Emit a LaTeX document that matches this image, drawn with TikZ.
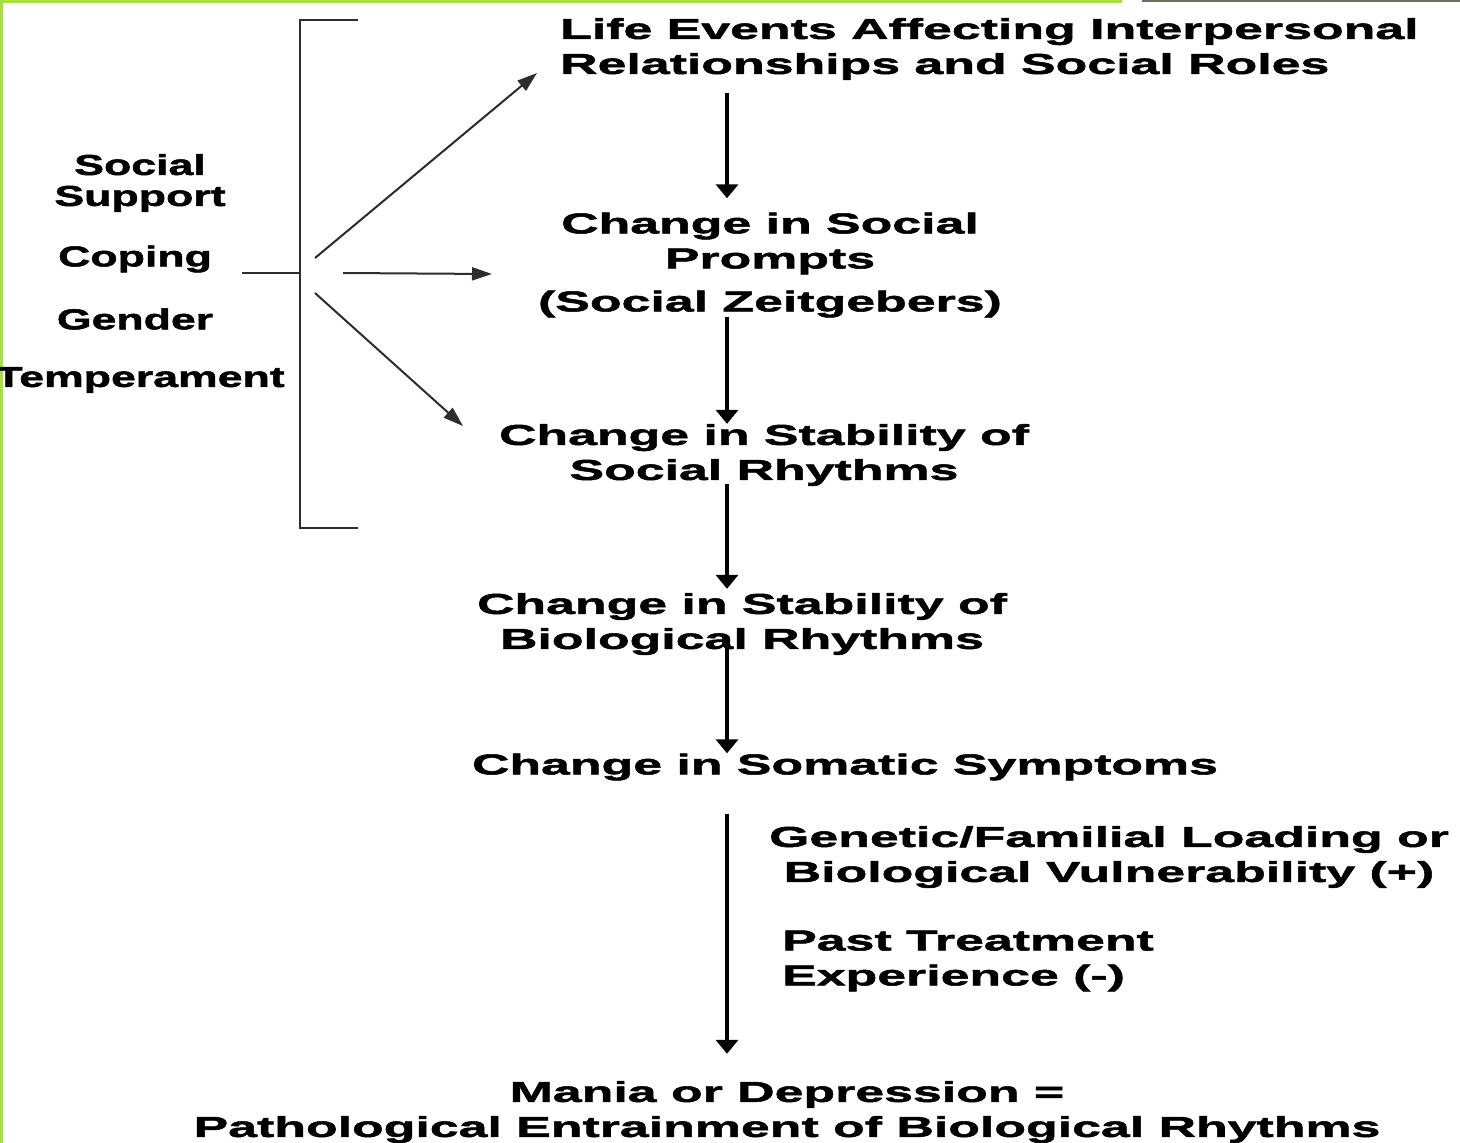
\documentclass[tikz,border=0pt]{standalone}
\usepackage{fontspec}
\setmainfont{Liberation Sans}
\newfontfamily\widefont{Liberation Sans}[FakeStretch=1.8,FakeBold=1.8]
\newfontfamily\sidefont{Liberation Sans}[FakeStretch=1.55,FakeBold=1.8]
\usetikzlibrary{arrows.meta}
\definecolor{edgegreen}{RGB}{168,222,70}
\definecolor{edgegray}{RGB}{110,110,95}
\definecolor{linegray}{RGB}{45,45,45}
\begin{document}
\begin{tikzpicture}[x=1pt,y=-1pt,
  label/.style={inner sep=0pt,font=\widefont\bfseries\fontsize{28.8}{35}\selectfont},
  sidelabel/.style={inner sep=0pt,font=\sidefont\bfseries\fontsize{28.8}{31}\selectfont,align=center},
  mainarrow/.style={line width=4pt,-{Triangle[width=22pt,length=14pt]}},
  sidearrow/.style={line width=2pt,draw=linegray,-{Triangle[width=13pt,length=20pt]}},
  bracketline/.style={line width=2.5pt,draw=linegray}]
\useasboundingbox (0,0) rectangle (1460,1143);
\fill[white] (0,0) rectangle (1460,1143);
% frame edges
\draw[edgegreen,line width=3pt] (1.5,1143) -- (1.5,1.5) -- (1122,1.5);
\draw[edgegray,line width=2pt] (1142,1) -- (1460,1);

% spine of the main chain
\coordinate (spine) at (727,0);

% main chain
\node[label,align=left,anchor=west] (life) at (560,49)
  {Life Events Affecting Interpersonal\\Relationships and Social Roles};
\node[label,align=center] (prompts) at (770,265)
  {Change in Social\\Prompts\\[8pt](Social Zeitgebers)};
\node[label,align=center] (socrhy) at (764,455)
  {Change in Stability of\\Social Rhythms};
\node[label,align=center] (biorhy) at (742,624)
  {Change in Stability of\\Biological Rhythms};
\node[label] (somatic) at (845,767) {Change in Somatic Symptoms};
\node[label,align=center] (genetic) at (1109,857)
  {Genetic/Familial Loading or\\Biological Vulnerability (+)};
\node[label,align=left,anchor=west] (past) at (782,961)
  {Past Treatment\\Experience (-)};
\node[label,align=center] (mania) at (787,1112)
  {Mania or Depression =\\Pathological Entrainment of Biological Rhythms};

% moderating factors
\node[sidelabel] (support) at (140,183) {Social\\Support};
\node[sidelabel] (coping) at (135,259) {Coping};
\node[sidelabel] (gender) at (135,319) {Gender};
\node[sidelabel] (temper) at (140,380) {Temperament};

% bracket gathering the factors
\draw[bracketline] (358,20) -- (300,20) -- (300,528) -- (358,528);
\coordinate (stem) at (242,273);
\coordinate (brk) at (300,273);
\draw[bracketline] (stem) -- (brk);

% arrows from the bracket
\coordinate (f1) at (315,258);
\coordinate (f2) at (343,273);
\coordinate (f3) at (315,293);
\coordinate (t1) at (537,73);
\coordinate (t2) at (492,274);
\coordinate (t3) at (463,426);
\draw[sidearrow] (f1) -- (t1);
\draw[sidearrow] (f2) -- (t2);
\draw[sidearrow] (f3) -- (t3);

% vertical arrows of the chain
\draw[mainarrow,shorten <=13pt,shorten >=14pt] (life.south -| spine) -- (prompts.north -| spine);
\draw[mainarrow,shorten <=-1pt] (prompts.south -| spine) -- (socrhy.north -| spine);
\draw[mainarrow,shorten <=-2pt,shorten >=4pt] (socrhy.south -| spine) -- (biorhy.north -| spine);
\draw[mainarrow,shorten <=-14pt] (biorhy.south -| spine) -- (somatic.north -| spine);
\draw[mainarrow,shorten <=33pt,shorten >=27pt] (somatic.south -| spine) -- (mania.north -| spine);
\end{tikzpicture}
\end{document}
